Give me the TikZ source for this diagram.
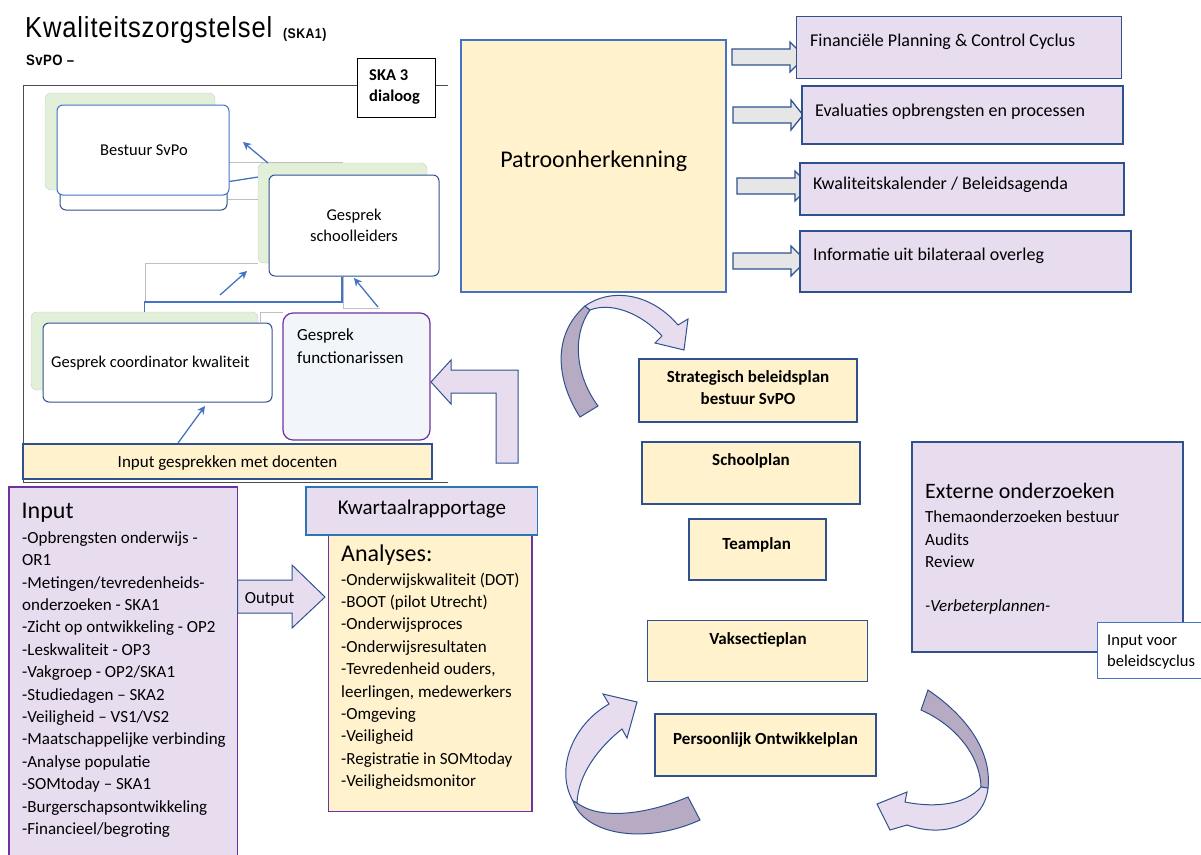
\documentclass[tikz,border=0pt]{standalone}
\usepackage{fontspec}
\setmainfont{Carlito}
\newfontfamily\narrowfont{Liberation Sans}[FakeStretch=0.88,LetterSpace=3]
\usetikzlibrary{positioning,arrows.meta}

\definecolor{planyel}{HTML}{FFF2CC}
\definecolor{lila}{HTML}{E8DDEF}
\definecolor{lilad}{HTML}{B7ABC3}
\definecolor{navy}{HTML}{2F528F}
\definecolor{midblue}{HTML}{4472C4}
\definecolor{kwblue}{HTML}{2E75B6}
\definecolor{paars}{HTML}{7030A0}
\definecolor{greyarr}{HTML}{E7E6E6}
\definecolor{mint}{HTML}{E2EFD9}
\definecolor{ijs}{HTML}{F2F6FA}

\newcommand{\fs}[1]{\fontsize{#1}{#1}\selectfont}

\begin{document}
\begin{tikzpicture}[x=1pt,y=-1pt,
  sz/.style 2 args={minimum width=#1pt,minimum height=#2pt},
  yelbox/.style={draw=navy,line width=1.2pt,fill=planyel,inner sep=0pt},
  lilbox/.style={draw=navy,line width=1.2pt,fill=lila,inner sep=0pt},
  greenbox/.style={draw=black!20,fill=mint,rounded corners=6pt,inner sep=0pt},
  talkbox/.style={draw=navy,line width=1pt,fill=white,rounded corners=6pt,inner sep=0pt},
  txt/.style={anchor=base west,inner sep=0pt},
  ctxt/.style={anchor=base,inner sep=0pt},
  blk/.style={draw=navy,line width=1pt,fill=lila},
  twist/.style={draw=navy,line width=1pt,fill=lilad},
  greyblk/.style={draw=navy,line width=1.2pt,fill=greyarr},
  link/.style={midblue,line width=1.3pt},
  pijl/.style={link,-{Stealth[length=8pt,width=8pt]}},
  faint/.style={black!25,line width=0.6pt}]
\useasboundingbox (0,0) rectangle (1201,854);

% title
\node[txt,font=\narrowfont\fs{29}] (title) at (25,37) {Kwaliteitszorgstelsel};
\node[txt,font=\narrowfont\bfseries\fs{14}] (ska1) at (283,38) {(SKA1)};
\node[txt,font=\narrowfont\bfseries\fs{15}] (svpo) at (26,65) {SvPO –};

% dialoog frame
\draw[black!70,line width=0.8pt] (448,85) -- (23,85) -- (23,482) -- (448,482);
\node[draw=black,line width=1pt,fill=white,sz={78}{59},inner sep=0pt] (ska3) at (396,87.5) {};
\node[txt,font=\bfseries\fs{16.5}] (ska3a) at (369,80) {SKA 3};
\node[txt,font=\bfseries\fs{16.5}] (ska3b) at (369,101.7) {dialoog};

\draw[faint] (228,162) -- (343,162);
\draw[faint] (228,199) -- (258,199);
\draw[faint] (145,303) |- (258,263);
\draw[faint] (343,276) |- (380,308);
\draw[faint] (260,322) |- (283,312);

% gesprekken
\node[greenbox,sz={170}{97}] (bgreen) at (130,141.5) {};
\node[talkbox,sz={167}{90}] (bback) at (143.5,165) {};
\node[talkbox,draw=midblue,sz={172}{90}] (bfront) at (143,150) {};
\node[txt,font=\fs{16.5}] (bname) at (100,155) {Bestuur SvPo};

\node[greenbox,sz={169}{100}] (sgreen) at (342.5,213) {};
\node[talkbox,sz={170}{101}] (sfront) at (354,225.5) {};
\node[ctxt,font=\fs{16.5}] (sname1) at (354,220) {Gesprek};
\node[ctxt,font=\fs{16.5}] (sname2) at (354,241.7) {schoolleiders};

\node[greenbox,sz={227}{78}] (cgreen) at (144.5,351) {};
\node[talkbox,sz={229}{79}] (cfront) at (157.5,362.5) {};
\node[txt,font=\fs{16.5}] (cname) at (51,367.3) {Gesprek coordinator kwaliteit};

\node[draw=paars,line width=1.2pt,fill=ijs,rounded corners=10pt,sz={147}{127},inner sep=0pt] (func) at (356.5,376.5) {};
\node[txt,font=\fs{17}] (func1) at (297,340) {Gesprek};
\node[txt,font=\fs{17}] (func2) at (297,363.3) {functionarissen};

\node[yelbox,sz={409}{35}] (igd) at (227.5,461.5) {};
\node[ctxt,font=\fs{17}] (igdt) at (227.5,467.7) {Input gesprekken met docenten};

\coordinate (p1) at (268,163); \coordinate (q1) at (243,142);
\coordinate (p2) at (220,295); \coordinate (q2) at (247,271);
\coordinate (p3) at (378,307); \coordinate (q3) at (354,278);
\coordinate (p4) at (178,443); \coordinate (q4) at (205,406);
\coordinate (elb) at (342,302);
\draw[pijl] (p1) -- (q1);
\draw[pijl] (p2) -- (q2);
\draw[pijl] (p3) -- (q3);
\draw[pijl] (p4) -- (q4);
\draw[link] (bfront.-20) -- (sgreen.157.5);
\draw[link] (cgreen.north) |- (elb) -- (elb |- sfront.south);

\draw[blk] (431,382) -- (451,360) -- (451,370) -- (518,370) -- (518,463) -- (496,463) -- (496,393) -- (451,393) -- (451,404) -- cycle;

% patroonherkenning
\node[draw=midblue,line width=1.2pt,fill=planyel,sz={265}{252},inner sep=0pt] (patroon) at (593.5,166) {};
\node[ctxt,font=\fs{24}] (patroont) at (593.7,167.7) {Patroonherkenning};

\foreach \xa/\xb/\xt/\yc in {732/790/805/57, 733/791/803/115, 737/795/810/186, 733/791/806/261}
  \draw[greyblk] (\xa,\yc-8) -- (\xb,\yc-8) -- (\xb,\yc-15) -- (\xt,\yc) -- (\xb,\yc+15) -- (\xb,\yc+8) -- (\xa,\yc+8) -- cycle;

\node[lilbox,sz={325}{61.6}] (fin) at (959.2,47.5) {};
\node[txt,font=\fs{18}] (fint) at (810,46.7) {Financiële Planning \& Control Cyclus};
\node[lilbox,sz={321}{58}] (eval) at (962.5,115) {};
\node[txt,font=\fs{18}] (evalt) at (815,116) {Evaluaties opbrengsten en processen};
\node[lilbox,sz={324}{52}] (kal) at (962,189) {};
\node[txt,font=\fs{18}] (kalt) at (813,189.3) {Kwaliteitskalender / Beleidsagenda};
\node[lilbox,sz={331}{61}] (bil) at (965.5,261.5) {};
\node[txt,font=\fs{18}] (bilt) at (813,260.7) {Informatie uit bilateraal overleg};

% cyclus
\draw[twist] (580,417) .. controls (556,380) and (552,335) .. (585,306) -- (590,310) .. controls (572,335) and (575,375) .. (598,406) -- cycle;
\draw[blk] (585,306) .. controls (610,288) and (650,292) .. (678,325) -- (688,319) -- (684,350) -- (655,343) -- (662,336) .. controls (640,312) and (610,302) .. (590,310) -- cycle;

\draw[blk] (603,694) -- (637,702) -- (627,738) -- (622,729) .. controls (598,748) and (578,775) .. (577,803) -- (573,801) .. controls (555,770) and (572,725) .. (609,704) -- cycle;
\draw[twist] (573,801) .. controls (585,835) and (645,845) .. (700,820) -- (688,797) .. controls (645,815) and (600,820) .. (577,803) -- cycle;

\draw[twist] (928,690) .. controls (965,715) and (992,750) .. (988,788) -- (981,787) .. controls (980,755) and (955,725) .. (921,710) -- cycle;
\draw[blk] (981,787) .. controls (965,805) and (935,808) .. (905,802) -- (907,792) -- (877,804) -- (890,830) -- (907,825) .. controls (950,840) and (985,820) .. (988,788) -- cycle;

\node[yelbox,sz={218}{63}] (strat) at (748,390.5) {};
\node[ctxt,font=\bfseries\fs{17}] (strat1) at (748,382.7) {Strategisch beleidsplan};
\node[ctxt,font=\bfseries\fs{17}] (strat2) at (748,404.3) {bestuur SvPO};
\node[yelbox,sz={218}{62}] (school) at (751,473) {};
\node[ctxt,font=\bfseries\fs{17}] (schoolt) at (751,465) {Schoolplan};
\node[yelbox,sz={137}{61}] (team) at (757.5,549.5) {};
\node[ctxt,font=\bfseries\fs{17}] (teamt) at (756.7,549.3) {Teamplan};
\node[yelbox,sz={220}{61}] (vak) at (757.5,651.2) {};
\node[ctxt,font=\bfseries\fs{17}] (vakt) at (758,644) {Vaksectieplan};
\node[yelbox,sz={221}{62}] (pop) at (765.5,745) {};
\node[ctxt,font=\bfseries\fs{17}] (popt) at (765.5,744) {Persoonlijk Ontwikkelplan};

% externe onderzoeken
\node[lilbox,sz={271}{210}] (ext) at (1047.5,547) {};
\node[txt,font=\fs{22}] (ext0) at (925,498.5) {Externe onderzoeken};
\node[txt,font=\fs{17}] (ext1) at (925,522.3) {Themaonderzoeken bestuur};
\node[txt,font=\fs{17}] (ext2) at (925,545) {Audits};
\node[txt,font=\fs{17}] (ext3) at (925,567.3) {Review};
\node[txt,font=\itshape\fs{17}] (ext4) at (925,611.7) {-Verbeterplannen-};
\node[draw=midblue,line width=1pt,fill=white,sz={108}{56},inner sep=0pt] (ivb) at (1151,650) {};
\node[txt,font=\fs{16.5}] (ivb1) at (1107,645) {Input voor};
\node[txt,font=\fs{16.5}] (ivb2) at (1107,666.7) {beleidscyclus};

% input en analyses
\node[draw=paars,line width=1.2pt,fill=lila,sz={228.5}{373},inner sep=0pt] (input) at (123.25,673.5) {};
\node[txt,font=\fs{24}] (inputh) at (21.5,518) {Input};
\foreach \t [count=\i from 0] in {{-Opbrengsten onderwijs -},{OR1},{-Metingen/tevredenheids-},{onderzoeken - SKA1},{-Zicht op ontwikkeling - OP2},{-Leskwaliteit - OP3},{-Vakgroep - OP2/SKA1},{-Studiedagen – SKA2},{-Veiligheid – VS1/VS2},{-Maatschappelijke verbinding},{-Analyse populatie},{-SOMtoday – SKA1},{-Burgerschapsontwikkeling},{-Financieel/begroting}}
  \node[txt,font=\fs{17}] (in\i) at (22,{543.3+22.4*\i}) {\t};

\draw[blk] (237.5,580) -- (292,580) -- (292,565) -- (325,597) -- (292,628) -- (292,613) -- (237.5,613) -- cycle;
\node[txt,font=\fs{17}] (outt) at (244.6,603.3) {Output};

\node[draw=paars,line width=1.2pt,fill=planyel,sz={203.4}{276.7},inner sep=0pt] (anal) at (430.3,673.35) {};
\node[draw=kwblue,line width=1.2pt,fill=lila,sz={231.5}{48},inner sep=0pt] (kwart) at (421.75,511) {};
\node[ctxt,font=\fs{21}] (kwartt) at (422,514) {Kwartaalrapportage};
\node[txt,font=\fs{24}] (analh) at (341,561) {Analyses:};
\foreach \t [count=\i from 0] in {{-Onderwijskwaliteit (DOT)},{-BOOT (pilot Utrecht)},{-Onderwijsproces},{-Onderwijsresultaten},{-Tevredenheid ouders,},{leerlingen, medewerkers},{-Omgeving},{-Veiligheid},{-Registratie in SOMtoday},{-Veiligheidsmonitor}}
  \node[txt,font=\fs{17}] (an\i) at (341,{585+22.4*\i}) {\t};
\end{tikzpicture}
\end{document}
